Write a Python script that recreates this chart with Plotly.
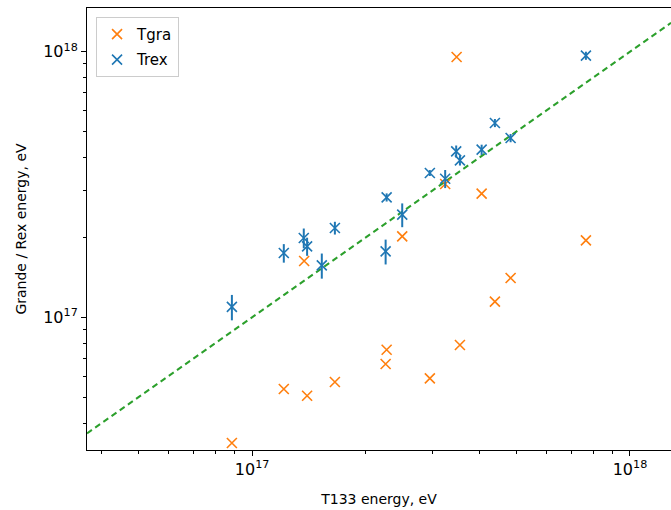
import plotly.graph_objects as go

# ---- data (eV) ----
trex_x = [8.84e16, 1.213e17, 1.370e17, 1.398e17, 1.529e17, 1.656e17, 2.270e17, 2.256e17,
          2.496e17, 2.954e17, 3.243e17, 3.468e17, 3.548e17, 4.050e17, 4.391e17, 4.832e17, 7.646e17]
trex_y = [1.094e17, 1.746e17, 1.989e17, 1.849e17, 1.568e17, 2.169e17, 2.828e17, 1.771e17,
          2.434e17, 3.494e17, 3.325e17, 4.214e17, 3.897e17, 4.276e17, 5.390e17, 4.731e17, 9.659e17]
trex_err = [0.12e17, 0.14e17, 0.17e17, 0.145e17, 0.17e17, 0.12e17, 0.10e17, 0.19e17,
            0.25e17, 0.09e17, 0.26e17, 0.22e17, 0.17e17, 0.19e17, 0.19e17, 0.17e17, 0.34e17]

tgra_x = [8.84e16, 1.213e17, 1.373e17, 1.398e17, 1.656e17, 2.270e17, 2.256e17, 2.496e17,
          2.954e17, 3.243e17, 3.477e17, 3.548e17, 4.050e17, 4.391e17, 4.832e17, 7.646e17]
tgra_y = [3.363e16, 5.370e16, 1.629e17, 5.068e16, 5.706e16, 7.551e16, 6.672e16, 2.017e17,
          5.888e16, 3.177e17, 9.55e17, 7.867e16, 2.920e17, 1.145e17, 1.406e17, 1.948e17]

x_range_log = [16.563, 18.1086]
y_range_log = [16.5004, 18.1645]

major_vals = [1e17, 1e18]
major_text = ["10<sup>17</sup>", "10<sup>18</sup>"]
minor_vals = [m * 10 ** e for e in (16, 17, 18) for m in range(2, 10)]

C0, C1, C2 = "#1f77b4", "#ff7f0e", "#2ca02c"

fig = go.Figure()

# identity line y = x across the x range
line_x = [10 ** x_range_log[0], 10 ** x_range_log[1]]
fig.add_trace(go.Scatter(x=line_x, y=line_x, mode="lines",
                         line=dict(color=C2, width=2, dash="6px,4px"),
                         showlegend=False, hoverinfo="skip"))

fig.add_trace(go.Scatter(x=tgra_x, y=tgra_y, mode="markers", name="Tgra",
                         legendgroup="a",
                         marker=dict(symbol="x-thin", size=10, color=C1,
                                     line=dict(color=C1, width=1.6))))

fig.add_trace(go.Scatter(x=trex_x, y=trex_y, mode="markers", name="Trex",
                         legendgroup="b",
                         error_y=dict(type="data", array=trex_err, visible=True,
                                      color=C0, thickness=2, width=0),
                         marker=dict(symbol="x-thin", size=10, color=C0,
                                     line=dict(color=C0, width=1.6))))

tick_font = dict(family="DejaVu Sans", size=16, color="#000000")
title_font = dict(family="DejaVu Sans", size=14, color="#000000")

fig.update_layout(
    width=671, height=510,
    margin=dict(l=87, r=0, t=8, b=60, autoexpand=False),
    paper_bgcolor="white", plot_bgcolor="white",
    font=dict(family="DejaVu Sans", size=14, color="#000000"),
    legend=dict(x=0.0155, y=0.98, xanchor="left", yanchor="top",
                bgcolor="rgba(255,255,255,0.8)", bordercolor="#cccccc", borderwidth=1,
                font=dict(family="DejaVu Sans", size=15, color="#000000"),
                tracegroupgap=3),
    showlegend=True,
)

fig.update_xaxes(
    type="log", range=x_range_log, automargin=False,
    tickmode="array", tickvals=major_vals, ticktext=major_text,
    ticks="outside", ticklen=5, tickwidth=1, tickcolor="black",
    minor=dict(tickmode="array", tickvals=minor_vals, ticks="outside",
               ticklen=3, tickwidth=1, tickcolor="black", showgrid=False),
    showgrid=False, zeroline=False,
    showline=True, linecolor="black", linewidth=1, mirror=True,
    tickfont=tick_font,
    title=dict(text="T133 energy, eV", font=title_font, standoff=15),
)

fig.update_yaxes(
    type="log", range=y_range_log, automargin=False,
    tickmode="array", tickvals=major_vals, ticktext=major_text,
    ticks="outside", ticklen=5, tickwidth=1, tickcolor="black",
    minor=dict(tickmode="array", tickvals=minor_vals, ticks="outside",
               ticklen=3, tickwidth=1, tickcolor="black", showgrid=False),
    showgrid=False, zeroline=False,
    showline=True, linecolor="black", linewidth=1, mirror=False,
    tickfont=tick_font,
    title=dict(text="Grande / Rex energy, eV", font=title_font, standoff=13),
)

# remove the browser's default 8px page margin so the figure fills the window
fig.write_html("out.html", config={"displayModeBar": False},
               post_script="document.body.style.margin='0px';")
